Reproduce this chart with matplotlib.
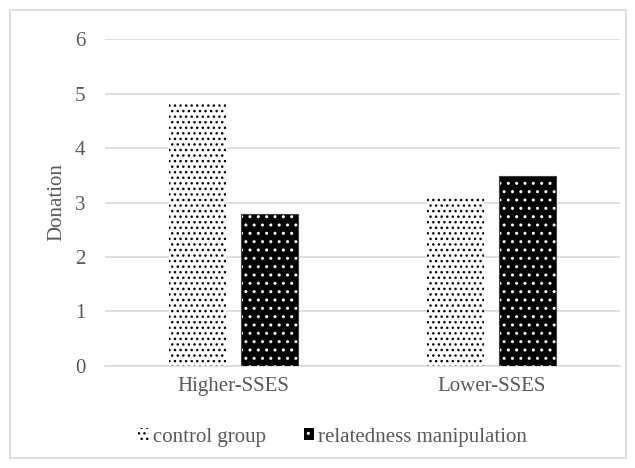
import matplotlib.pyplot as plt
import numpy as np
from matplotlib.patches import Patch, Rectangle

# data
groups = ["Higher-SSES", "Lower-SSES"]
control = [4.85, 3.09]
related = [2.79, 3.49]
series_names = ["control group", "relatedness manipulation"]

plt.rcParams["font.family"] = ["Liberation Serif", "DejaVu Serif"]
plt.rcParams["hatch.linewidth"] = 1.0
txt = "#595959"
grid = "#d9d9d9"
fs = 15

fig = plt.figure(figsize=(6.35, 4.68), dpi=100)
ax = fig.add_axes([0.1654, 0.219, 0.811, 0.6966])

x = np.arange(len(groups))
w = 0.221
off = 0.14

ax.bar(x - off, control, w, facecolor="white", edgecolor="black", hatch="...", linewidth=0, zorder=3)
ax.bar(x + off, related, w, facecolor="black", edgecolor="white", hatch="..", linewidth=0, zorder=3)
ax.bar(x + off, related, w, fill=False, edgecolor="#404040", linewidth=0.8, zorder=4)

ax.set_xlim(-0.5, 1.5)
ax.set_ylim(0, 6)
ax.set_yticks(range(0, 7))
ax.set_xticks(x)
ax.set_xticklabels(groups)
ax.yaxis.grid(True, color=grid, linewidth=1.2)
ax.set_axisbelow(True)
for s in ["top", "right", "left"]:
    ax.spines[s].set_visible(False)
ax.spines["bottom"].set_color(grid)
ax.spines["bottom"].set_linewidth(1.2)
ax.tick_params(axis="both", length=0, colors=txt, labelsize=fs)
ax.tick_params(axis="y", pad=14)
ax.tick_params(axis="x", pad=8)
ax.set_ylabel("Donation", color=txt, fontsize=fs, labelpad=6)

handles = [
    Patch(facecolor="white", edgecolor="black", hatch="...", linewidth=0),
    Patch(facecolor="black", edgecolor="white", hatch="..", linewidth=0),
]
fig.legend(handles, series_names, loc="center", bbox_to_anchor=(0.524, 0.066), ncol=2,
           frameon=False, fontsize=fs, labelcolor=txt, handlelength=0.5, handleheight=0.5,
           handletextpad=0.2, columnspacing=1.8)

fig.patches.append(Rectangle((10 / 635, 10 / 468), 616 / 635, 448 / 468, transform=fig.transFigure,
                             fill=False, edgecolor=grid, linewidth=1.2))

fig.savefig("out.png", dpi=100)
